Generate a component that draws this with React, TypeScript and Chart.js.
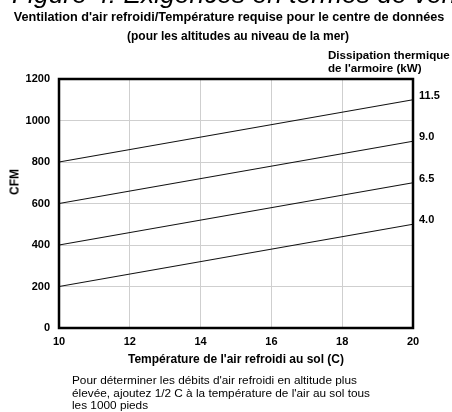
import React, { useEffect, useRef } from "react";
import { Chart, registerables } from "chart.js";

Chart.register(...registerables);

// ---- data ----
const temps = [10, 20];
const cfm40 = [200, 500];
const cfm65 = [400, 700];
const cfm90 = [600, 900];
const cfm115 = [800, 1100];
const series = [cfm40, cfm65, cfm90, cfm115];
const kwLabels = ["4.0", "6.5", "9.0", "11.5"];
const xTickValues = [10, 12, 14, 16, 18, 20];
const yTickValues = [0, 200, 400, 600, 800, 1000, 1200];

const FONT = "'Liberation Sans', Arial, Helvetica, sans-serif";

const framePlugin = {
  id: "frame",
  afterDraw(chart: any) {
    const { ctx, chartArea } = chart;
    ctx.save();
    ctx.strokeStyle = "#000";
    ctx.lineWidth = 2.5;
    ctx.strokeRect(chartArea.left, chartArea.top, chartArea.right - chartArea.left, chartArea.bottom - chartArea.top);
    ctx.restore();
  },
};

export default function App() {
  const ref = useRef<HTMLCanvasElement | null>(null);

  useEffect(() => {
    if (!ref.current) return;
    const endValues = series.map((s) => s[s.length - 1]);
    const chart = new Chart(ref.current, {
      type: "line",
      data: {
        datasets: series.map((s, i) => ({
          label: kwLabels[i] + " kW",
          data: temps.map((t, j) => ({ x: t, y: s[j] })),
          borderColor: "#111",
          borderWidth: 1.2,
          pointRadius: 0,
          fill: false,
        })),
      },
      options: {
        animation: false,
        responsive: false,
        maintainAspectRatio: false,
        layout: { padding: { top: 79, left: 0, right: 0, bottom: 44 } },
        plugins: { legend: { display: false }, title: { display: false }, tooltip: { enabled: false } },
        scales: {
          x: {
            type: "linear",
            min: 10,
            max: 20,
            afterBuildTicks: (scale: any) => {
              scale.ticks = xTickValues.map((v) => ({ value: v }));
            },
            afterFit: (scale: any) => {
              scale.height = 40;
            },
            grid: { color: "#cfcfcf", lineWidth: 1, drawTicks: false },
            border: { display: false },
            ticks: {
              color: "#000",
              padding: 7,
              font: { family: FONT, size: 11, weight: "bold" },
              maxRotation: 0,
              callback: (value: any) => String(value),
            },
            title: {
              display: true,
              text: "Température de l'air refroidi au sol (C)",
              color: "#000",
              font: { family: FONT, size: 12, weight: "bold" },
              padding: { top: 0, bottom: 1 },
            },
          },
          y: {
            position: "left",
            min: 0,
            max: 1200,
            afterBuildTicks: (scale: any) => {
              scale.ticks = yTickValues.map((v) => ({ value: v }));
            },
            afterFit: (scale: any) => {
              scale.width = 59;
            },
            grid: { color: "#cfcfcf", lineWidth: 1, drawTicks: false },
            border: { display: false },
            ticks: {
              color: "#000",
              padding: 9,
              font: { family: FONT, size: 11, weight: "bold" },
              callback: (value: any) => String(value),
            },
          },
          y2: {
            position: "right",
            min: 0,
            max: 1200,
            afterBuildTicks: (scale: any) => {
              scale.ticks = endValues.map((v) => ({ value: v }));
            },
            afterFit: (scale: any) => {
              scale.width = 39;
            },
            grid: { display: false, drawTicks: false },
            border: { display: false },
            ticks: {
              color: "#000",
              padding: 6,
              labelOffset: -4,
              font: { family: FONT, size: 11, weight: "bold" },
              callback: (value: any) => {
                const idx = endValues.indexOf(Number(value));
                return idx >= 0 ? kwLabels[idx] : "";
              },
            },
          },
        },
      },
      plugins: [framePlugin],
    } as any);
    return () => chart.destroy();
  }, []);

  const bold12: React.CSSProperties = { fontFamily: FONT, fontSize: 12, fontWeight: "bold", color: "#000", lineHeight: "13px", position: "absolute", whiteSpace: "nowrap" };

  return (
    <div style={{ position: "absolute", left: 0, top: 0, width: 452, height: 412, overflow: "hidden", background: "#fff" }}>
      <canvas ref={ref} width={452} height={412} style={{ position: "absolute", left: 0, top: 0, width: 452, height: 412 }} />
      <div style={{ position: "absolute", left: 12, top: -19, fontFamily: FONT, fontSize: 26.4, fontStyle: "italic", lineHeight: "27px", whiteSpace: "nowrap", color: "#000" }}>
        Figure 4: Exigences en termes de ventilation
      </div>
      <div style={{ ...bold12, fontSize: 12.7, left: 0, width: 458, top: 11, textAlign: "center" }}>
        Ventilation d'air refroidi/Température requise pour le centre de données
      </div>
      <div style={{ ...bold12, left: 0, width: 476, top: 30, textAlign: "center" }}>
        (pour les altitudes au niveau de la mer)
      </div>
      <div style={{ ...bold12, fontSize: 11.6, left: 328, top: 48 }}>Dissipation thermique</div>
      <div style={{ ...bold12, fontSize: 11.6, left: 328, top: 61 }}>de l'armoire (kW)</div>
      <div style={{ ...bold12, left: 15, top: 182, transform: "translate(-50%, -50%) rotate(-90deg)" }}>CFM</div>
      <div style={{ position: "absolute", left: 72, top: 374, fontFamily: FONT, fontSize: 11.8, color: "#000", lineHeight: "12.6px", whiteSpace: "nowrap" }}>
        Pour déterminer les débits d'air refroidi en altitude plus
        <br />
        élevée, ajoutez 1/2 C à la température de l'air au sol tous
        <br />
        les 1000 pieds
      </div>
    </div>
  );
}
